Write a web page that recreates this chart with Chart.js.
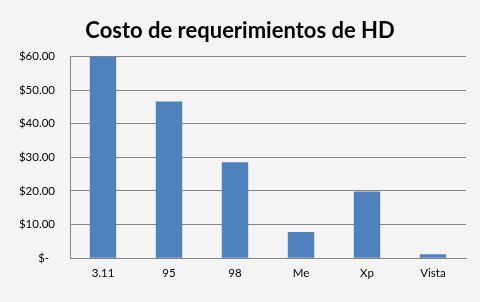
<!DOCTYPE html>
<html><head><meta charset="utf-8">
<script src="https://cdn.jsdelivr.net/npm/chart.js@4"></script>
<style>html,body{margin:0;padding:0;background:#f4f4f4;}#wrap{width:480px;height:302px;}</style>
</head><body><div id="wrap"><canvas id="c" width="480" height="302"></canvas></div>
<script>
const categories = ["3.11", "95", "98", "Me", "Xp", "Vista"];
const costs = [60, 46.6, 28.5, 7.8, 19.8, 1.2];
const yTicks = [0, 10, 20, 30, 40, 50, 60];
const titleText = "Costo de requerimientos de HD";

new Chart(document.getElementById('c'), {
  type: 'bar',
  data: { labels: categories, datasets: [{ data: costs, backgroundColor: '#4f81bd', barPercentage: 0.8, categoryPercentage: 0.5 }] },
  options: {
    responsive: false, animation: false,
    layout: { padding: { left: 14, right: 14, top: 0, bottom: 22 } },
    plugins: {
      legend: { display: false }, tooltip: { enabled: false },
      title: { display: true, text: titleText, color: '#000', font: { family: 'Lato', size: 22, weight: 'bold' }, padding: { top: 18, bottom: 12 } }
    },
    scales: {
      x: {
        grid: { display: false },
        border: { display: true, color: '#868686' },
        ticks: { color: '#000', font: { family: 'Lato', size: 11.5 }, padding: 0 }
      },
      y: {
        min: 0, max: 60,
        afterBuildTicks: (s) => { s.ticks = yTicks.map(v => ({ value: v })); },
        afterFit: (s) => { s.width = 56; },
        grid: { color: '#868686', drawTicks: false },
        border: { display: true, color: '#868686' },
        ticks: { color: '#000', font: { family: 'Lato', size: 11.5 }, padding: 15,
          callback: (v) => v === 0 ? '$-  ' : '$' + v.toFixed(2) }
      }
    }
  }
});
</script></body></html>
